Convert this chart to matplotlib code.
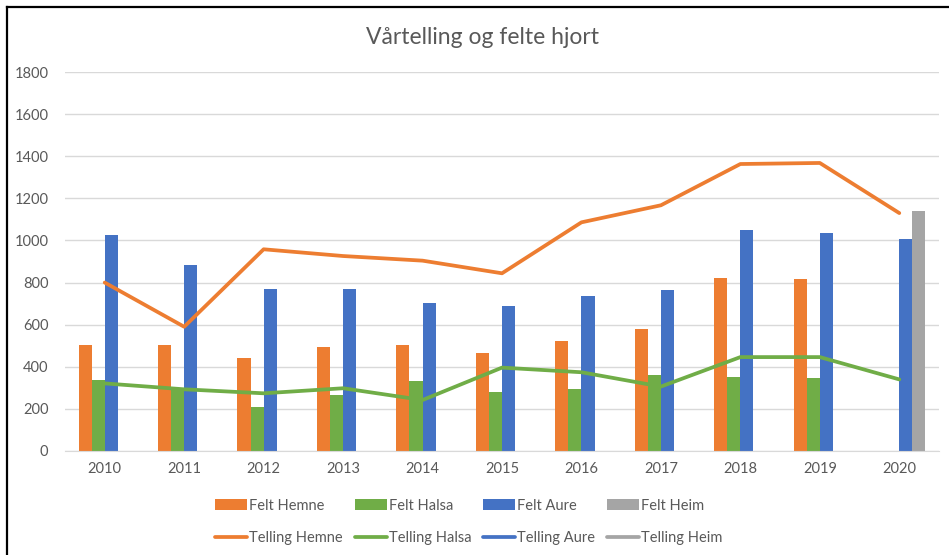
import numpy as np
import matplotlib.pyplot as plt
from matplotlib.lines import Line2D

plt.rcParams['font.family'] = ['Lato', 'DejaVu Sans']

years = ['2010', '2011', '2012', '2013', '2014', '2015', '2016', '2017', '2018', '2019', '2020']
nan = np.nan

felt_hemne = [505, 502, 440, 494, 502, 464, 521, 578, 820, 815, nan]
felt_halsa = [336, 300, 210, 268, 332, 280, 296, 361, 351, 347, nan]
felt_aure = [1026, 883, 771, 771, 703, 687, 735, 765, 1050, 1034, 1005]
felt_heim = [nan, nan, nan, nan, nan, nan, nan, nan, nan, nan, 1141]

telling_hemne = [800, 590, 958, 926, 904, 844, 1086, 1167, 1363, 1368, 1130]
telling_halsa = [321, 293, 274, 298, 242, 396, 374, 306, 446, 446, 340]
telling_aure = [nan] * 11
telling_heim = [nan] * 11

orange = '#ED7D31'
green = '#70AD47'
blue = '#4472C4'
grey = '#A5A5A5'
txt = '#595959'

fig = plt.figure(figsize=(9.49, 5.55), dpi=100)
ax = fig.add_axes([65 / 949, (555 - 451) / 555, (939 - 65) / 949, (451 - 72) / 555])

x = np.arange(len(years))
w = 0.165
bars = []
for i, (vals, c, lab) in enumerate([(felt_hemne, orange, 'Felt Hemne'),
                                    (felt_halsa, green, 'Felt Halsa'),
                                    (felt_aure, blue, 'Felt Aure'),
                                    (felt_heim, grey, 'Felt Heim')]):
    b = ax.bar(x + (i - 1.5) * w, vals, w, color=c, label=lab, zorder=2)
    bars.append(b)

lines = []
for vals, c, lab in [(telling_hemne, orange, 'Telling Hemne'),
                     (telling_halsa, green, 'Telling Halsa'),
                     (telling_aure, blue, 'Telling Aure'),
                     (telling_heim, grey, 'Telling Heim')]:
    l, = ax.plot(x, vals, color=c, lw=2.7, label=lab, zorder=3, solid_capstyle='round')
    lines.append(l)

ax.set_xlim(-0.5, 10.5)
ax.set_ylim(0, 1800)
ax.set_yticks(range(0, 1801, 200))
ax.set_xticks(x)
ax.set_xticklabels(years)
ax.yaxis.grid(True, color='#D9D9D9', lw=1, zorder=0)
for s in ['top', 'right', 'left']:
    ax.spines[s].set_visible(False)
ax.spines['bottom'].set_color('#D9D9D9')
ax.tick_params(length=0, colors=txt, labelsize=10.5)
ax.tick_params(axis='y', pad=12)
ax.tick_params(axis='x', pad=8)

fig.text(0.508, 1 - 37 / 555, 'Vårtelling og felte hjort', ha='center', va='center',
         fontsize=16.5, color=txt)

handles = []
for b, l in zip(bars, lines):
    handles += [b, l]
fig.legend(handles=handles, labels=[h.get_label() for h in handles], ncol=4,
           loc='center', bbox_to_anchor=(0.494, 1 - 522 / 555), frameon=False,
           fontsize=10.5, labelcolor=txt, handlelength=2.2, handleheight=0.8,
           handletextpad=0.15, columnspacing=0.8, labelspacing=1.25)

# chart border (left and top edges visible)
fig.add_artist(Line2D([6.5 / 949, 6.5 / 949], [0, 1 - 6.5 / 555], color='black', lw=1.6))
fig.add_artist(Line2D([6.5 / 949, 1], [1 - 6.5 / 555, 1 - 6.5 / 555], color='black', lw=1.6))

fig.savefig('out.png', dpi=100)
